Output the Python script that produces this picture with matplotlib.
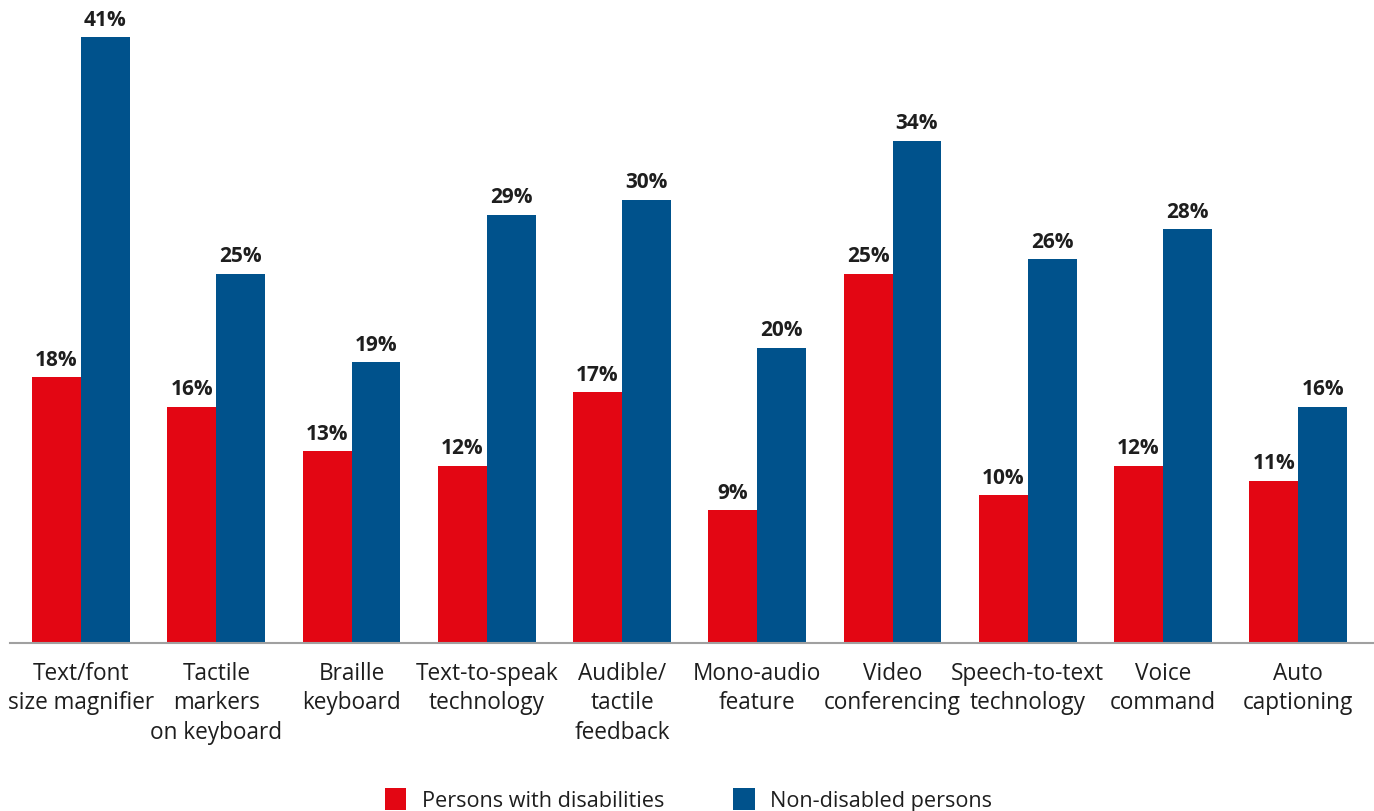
import numpy as np
import matplotlib.pyplot as plt

categories = [
    "Text/font\nsize magnifier",
    "Tactile\nmarkers\non keyboard",
    "Braille\nkeyboard",
    "Text-to-speak\ntechnology",
    "Audible/\ntactile\nfeedback",
    "Mono-audio\nfeature",
    "Video\nconferencing",
    "Speech-to-text\ntechnology",
    "Voice\ncommand",
    "Auto\ncaptioning",
]
disabled = [18, 16, 13, 12, 17, 9, 25, 10, 12, 11]
non_disabled = [41, 25, 19, 29, 30, 20, 34, 26, 28, 16]
series_names = ["Persons with disabilities", "Non-disabled persons"]

RED = "#E30613"
BLUE = "#00528C"
TEXT = "#1e1e1e"

plt.rcParams['font.family'] = ['Open Sans', 'DejaVu Sans']

fig = plt.figure(figsize=(13.74, 8.12), dpi=100)
ax = fig.add_axes([10 / 1374, 1 - 644 / 812, 1 - 10 / 1374, 644 / 812])

x = np.arange(len(categories))
w = 0.362
b1 = ax.bar(x - w / 2, disabled, w, color=RED, label=series_names[0])
b2 = ax.bar(x + w / 2, non_disabled, w, color=BLUE, label=series_names[1])

# value labels above each bar
for bars, vals in ((b1, disabled), (b2, non_disabled)):
    for bar, v in zip(bars, vals):
        ax.text(bar.get_x() + bar.get_width() / 2, v + 0.5, f"{v}%",
                ha='center', va='bottom', fontsize=15, fontweight='bold', color=TEXT)

ax.set_xlim(-0.525, 9.56)
ax.set_ylim(0, 43.6)
ax.set_yticks([])
ax.set_xticks(x)
ax.set_xticklabels(categories, fontsize=16.3, color=TEXT, linespacing=1.3)
ax.tick_params(axis='x', length=0, pad=13)

for side in ('top', 'right', 'left'):
    ax.spines[side].set_visible(False)
ax.spines['bottom'].set_color('#a0a0a0')
ax.spines['bottom'].set_linewidth(1.5)

fig.legend(loc='center', bbox_to_anchor=(0.501, 0.014), ncol=2, frameon=False,
           fontsize=15.6, handlelength=1.0, handleheight=1.2, handletextpad=0.7,
           columnspacing=3.2, labelcolor=TEXT)

fig.savefig("out.png", dpi=100)
